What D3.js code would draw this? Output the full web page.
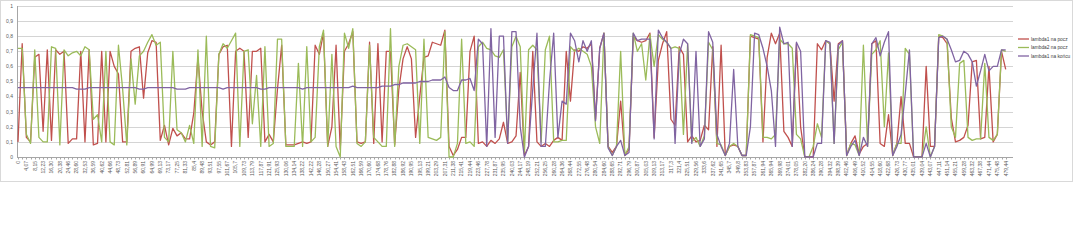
<!DOCTYPE html>
<html>
<head>
<meta charset="utf-8">
<script src="https://cdn.jsdelivr.net/npm/d3@7"></script>
<style>
  body { margin: 0; background: #fff; }
  text { font-family: "Liberation Sans", Arial, sans-serif; }
</style>
</head>
<body>
<div id="chart"></div>
<script>
var seriesNames = ["lambda1 na pocz", "lambda2 na pocz", "lambda1 na końcu"];
var seriesColors = ["#C0504D", "#9BBB59", "#8064A2"];

var yTicks = [0, 0.1, 0.2, 0.3, 0.4, 0.5, 0.6, 0.7, 0.8, 0.9, 1];

// labels shown under every second point
var tickLabels = ["0","4,07","8,15","12,23","16,30","20,38","24,46","28,60","32,53","36,59",
  "40,62","44,66","48,73","52,81","56,89","60,91","64,99","69,13","73,17","77,25",
  "81,33","85,4","89,48","93,51","97,55","101,67","105,7","109,73","113,79","117,87",
  "121,91","125,93","130,06","134,14","138,22","142,22","146,28","150,27","154,41","158,43",
  "162,51","166,59","170,60","174,68","178,76","182,88","186,92","190,95","195,13","199,21",
  "203,29","207,31","211,38","215,41","219,44","223,46","227,78","231,87","235,95","240,03",
  "244,17","248,19","252,21","256,25","260,28","264,36","268,44","272,55","276,48","280,54",
  "284,60","288,65","292,71","296,79","300,87","305,03","309,13","313,17","317,3","321,4",
  "325,51","329,56","333,6","337,62","341,65","345,7","349,8","353,83","357,87","361,94",
  "365,94","369,98","374,01","378,05","382,20","386,24","390,28","394,32","398,39","402,46",
  "406,49","410,52","414,55","418,60","422,68","426,73","430,77","435,01","439,04","443,07",
  "447,11","451,14","455,21","459,28","463,32","467,38","471,44","475,48","479,44"];

var lambda1Start = [
  0.10,0.75,0.13,0.10,0.66,0.68,0.17,0.71,0.11,0.71,
  0.68,0.70,0.09,0.12,0.12,0.70,0.10,0.71,0.08,0.09,
  0.70,0.10,0.70,0.60,0.55,0.10,0.10,0.70,0.72,0.73,
  0.39,0.69,0.77,0.76,0.11,0.21,0.08,0.19,0.14,0.16,
  0.12,0.12,0.29,0.66,0.30,0.10,0.08,0.10,0.68,0.73,
  0.74,0.07,0.70,0.72,0.70,0.13,0.70,0.70,0.72,0.10,
  0.15,0.10,0.45,0.74,0.08,0.08,0.08,0.09,0.10,0.09,
  0.10,0.74,0.68,0.82,0.07,0.20,0.74,0.05,0.70,0.75,
  0.83,0.10,0.09,0.10,0.76,0.09,0.75,0.10,0.70,0.70,
  0.08,0.45,0.65,0.73,0.65,0.13,0.40,0.66,0.67,0.76,
  0.75,0.74,0.84,0.07,0.01,0.05,0.13,0.13,0.70,0.80,
  0.09,0.10,0.07,0.11,0.09,0.12,0.23,0.09,0.10,0.14,
  0.56,0.01,0.07,0.70,0.10,0.07,0.09,0.07,0.11,0.13,
  0.11,0.70,0.37,0.71,0.70,0.73,0.72,0.75,0.25,0.72,
  0.82,0.07,0.03,0.07,0.37,0.01,0.05,0.80,0.77,0.76,
  0.77,0.82,0.13,0.64,0.75,0.83,0.25,0.21,0.73,0.68,
  0.10,0.14,0.10,0.11,0.21,0.18,0.73,0.07,0.74,0.01,
  0.07,0.08,0.07,0.01,0.01,0.80,0.79,0.78,0.10,0.66,
  0.82,0.75,0.82,0.17,0.13,0.07,0.75,0.20,0.00,0.00,
  0.00,0.75,0.71,0.77,0.75,0.37,0.75,0.77,0.01,0.09,
  0.14,0.02,0.07,0.09,0.75,0.77,0.09,0.07,0.28,0.01,
  0.09,0.40,0.09,0.09,0.00,0.00,0.00,0.60,0.07,0.07,
  0.80,0.79,0.75,0.26,0.10,0.11,0.13,0.21,0.63,0.64,
  0.12,0.13,0.60,0.10,0.15,0.70,0.58];

var lambda2Start = [
  0.72,0.72,0.15,0.09,0.71,0.13,0.10,0.10,0.73,0.72,
  0.08,0.71,0.67,0.69,0.70,0.67,0.73,0.71,0.25,0.28,
  0.10,0.70,0.10,0.08,0.74,0.45,0.08,0.65,0.35,0.67,
  0.70,0.76,0.81,0.74,0.76,0.13,0.10,0.70,0.18,0.16,
  0.10,0.21,0.09,0.71,0.07,0.80,0.07,0.06,0.68,0.75,
  0.72,0.77,0.82,0.07,0.70,0.71,0.22,0.54,0.07,0.73,
  0.07,0.09,0.78,0.78,0.07,0.07,0.07,0.62,0.07,0.73,
  0.10,0.13,0.73,0.84,0.07,0.68,0.07,0.00,0.82,0.72,
  0.85,0.09,0.07,0.10,0.74,0.13,0.10,0.07,0.07,0.85,
  0.07,0.60,0.74,0.75,0.73,0.71,0.09,0.78,0.13,0.12,
  0.11,0.13,0.83,0.00,0.00,0.09,0.78,0.09,0.10,0.07,
  0.73,0.76,0.72,0.71,0.67,0.66,0.71,0.10,0.73,0.80,
  0.73,0.03,0.71,0.74,0.71,0.10,0.71,0.80,0.10,0.10,
  0.11,0.11,0.73,0.70,0.72,0.70,0.68,0.60,0.20,0.09,
  0.82,0.07,0.01,0.07,0.70,0.01,0.07,0.82,0.70,0.75,
  0.51,0.81,0.60,0.81,0.78,0.76,0.72,0.73,0.72,0.15,
  0.75,0.10,0.13,0.07,0.14,0.76,0.71,0.09,0.08,0.01,
  0.07,0.09,0.07,0.01,0.01,0.81,0.80,0.79,0.13,0.13,
  0.12,0.15,0.78,0.75,0.75,0.72,0.15,0.12,0.00,0.00,
  0.07,0.22,0.13,0.77,0.75,0.09,0.71,0.76,0.01,0.09,
  0.08,0.01,0.74,0.07,0.68,0.71,0.77,0.20,0.69,0.01,
  0.09,0.09,0.72,0.68,0.00,0.00,0.00,0.20,0.00,0.07,
  0.81,0.80,0.78,0.20,0.13,0.62,0.64,0.13,0.11,0.12,
  0.12,0.62,0.13,0.11,0.15,0.71,0.70];

var lambda1End = [
  0.46,0.46,0.46,0.46,0.46,0.46,0.46,0.46,0.46,0.46,
  0.46,0.46,0.46,0.46,0.45,0.45,0.45,0.46,0.46,0.46,
  0.46,0.46,0.46,0.46,0.46,0.46,0.46,0.46,0.46,0.45,
  0.45,0.46,0.46,0.46,0.46,0.46,0.46,0.46,0.45,0.45,
  0.45,0.46,0.46,0.46,0.46,0.46,0.46,0.46,0.46,0.45,
  0.46,0.46,0.46,0.46,0.46,0.46,0.46,0.46,0.45,0.45,
  0.46,0.46,0.46,0.46,0.46,0.46,0.46,0.46,0.45,0.46,
  0.46,0.46,0.46,0.46,0.46,0.46,0.46,0.46,0.46,0.46,
  0.47,0.46,0.46,0.46,0.46,0.46,0.46,0.47,0.47,0.47,
  0.48,0.48,0.49,0.49,0.49,0.49,0.50,0.50,0.50,0.51,
  0.51,0.51,0.53,0.46,0.44,0.44,0.51,0.51,0.52,0.44,
  0.78,0.75,0.07,0.85,0.13,0.80,0.80,0.09,0.83,0.83,
  0.20,0.00,0.07,0.45,0.82,0.07,0.07,0.50,0.82,0.13,
  0.37,0.35,0.82,0.77,0.63,0.77,0.70,0.77,0.24,0.72,
  0.82,0.06,0.01,0.07,0.11,0.01,0.03,0.82,0.77,0.78,
  0.78,0.78,0.12,0.84,0.79,0.76,0.72,0.09,0.68,0.78,
  0.75,0.09,0.70,0.07,0.12,0.83,0.76,0.15,0.07,0.01,
  0.09,0.58,0.07,0.01,0.01,0.20,0.82,0.81,0.72,0.60,
  0.44,0.07,0.86,0.75,0.76,0.07,0.76,0.70,0.00,0.00,
  0.00,0.09,0.09,0.77,0.76,0.09,0.74,0.77,0.01,0.07,
  0.11,0.01,0.13,0.07,0.75,0.79,0.67,0.76,0.83,0.01,
  0.07,0.15,0.42,0.71,0.00,0.00,0.00,0.09,0.00,0.07,
  0.79,0.80,0.78,0.71,0.63,0.64,0.70,0.68,0.63,0.47,
  0.57,0.68,0.57,0.60,0.60,0.71,0.71];

var allSeries = [lambda1Start, lambda2Start, lambda1End];

var width = 1074, height = 240;
var plot = { left: 17, right: 1013, top: 6, bottom: 157 };

var svg = d3.select("#chart")
    .append("svg")
    .attr("width", width)
    .attr("height", height);

// chart border
svg.append("rect")
    .attr("x", 0.5)
    .attr("y", 0.5)
    .attr("width", 1072)
    .attr("height", 181)
    .attr("fill", "none")
    .attr("stroke", "#d9d9d9");

var n = lambda1Start.length;
var x = d3.scaleLinear().domain([0, n - 1]).range([18, 1005.7]);
var y = d3.scaleLinear().domain([0, 1]).range([plot.bottom, plot.top]);

// horizontal gridlines
svg.append("g")
    .selectAll("line")
    .data(yTicks.slice(1))
    .enter()
    .append("line")
    .attr("x1", plot.left)
    .attr("x2", plot.right)
    .attr("y1", function (d) { return Math.round(y(d)) + 0.5; })
    .attr("y2", function (d) { return Math.round(y(d)) + 0.5; })
    .attr("stroke", "#d4d4d4")
    .attr("stroke-width", 1);

// y labels
svg.append("g")
    .selectAll("text")
    .data(yTicks)
    .enter()
    .append("text")
    .text(function (d) { return d === 0 || d === 1 ? String(d) : String(d).replace(".", ","); })
    .attr("x", 13)
    .attr("y", function (d) { return y(d) + 1.8; })
    .attr("text-anchor", "end")
    .attr("font-size", 5)
    .attr("fill", "#595959");

// axes lines
svg.append("line")
    .attr("x1", plot.left + 0.5).attr("x2", plot.left + 0.5)
    .attr("y1", plot.top).attr("y2", plot.bottom)
    .attr("stroke", "#a6a6a6");
svg.append("line")
    .attr("x1", plot.left).attr("x2", plot.right)
    .attr("y1", plot.bottom + 0.5).attr("y2", plot.bottom + 0.5)
    .attr("stroke", "#a6a6a6");

// x tick marks
svg.append("g")
    .selectAll("line")
    .data(d3.range(n))
    .enter()
    .append("line")
    .attr("x1", function (d) { return Math.round(x(d)) + 0.5; })
    .attr("x2", function (d) { return Math.round(x(d)) + 0.5; })
    .attr("y1", plot.bottom)
    .attr("y2", plot.bottom + 2.5)
    .attr("stroke", "#a6a6a6");

// x labels, rotated
svg.append("g")
    .selectAll("text")
    .data(tickLabels)
    .enter()
    .append("text")
    .text(function (d) { return d; })
    .attr("transform", function (d, i) {
        return "translate(" + (x(i * 2) + 1.8) + "," + (plot.bottom + 4) + ") rotate(-90)";
    })
    .attr("text-anchor", "end")
    .attr("font-size", 5)
    .attr("fill", "#595959");

// series lines
var line = d3.line()
    .x(function (d, i) { return x(i); })
    .y(function (d) { return y(d); });

allSeries.forEach(function (s, k) {
    svg.append("path")
        .datum(s)
        .attr("d", line)
        .attr("fill", "none")
        .attr("stroke", seriesColors[k])
        .attr("stroke-width", 1.3)
        .attr("stroke-linejoin", "round");
});

// legend
var legend = svg.append("g");
seriesNames.forEach(function (name, k) {
    var ly = 39 + k * 8.5;
    legend.append("line")
        .attr("x1", 1018).attr("x2", 1029)
        .attr("y1", ly).attr("y2", ly)
        .attr("stroke", seriesColors[k])
        .attr("stroke-width", 1.3);
    legend.append("text")
        .text(name)
        .attr("x", 1031)
        .attr("y", ly + 1.7)
        .attr("font-size", 4.8)
        .attr("fill", "#404040");
});
</script>
</body>
</html>
